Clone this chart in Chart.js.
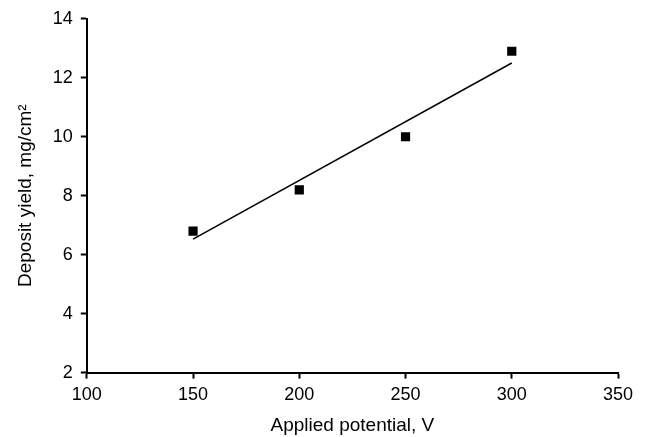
<!DOCTYPE html>
<html>
<head>
<meta charset="utf-8">
<script src="https://cdn.jsdelivr.net/npm/chart.js@4/dist/chart.umd.min.js"></script>
<style>
  html, body { margin: 0; padding: 0; background: #fff; }
  #wrap { width: 648px; height: 437px; }
</style>
</head>
<body>
<div id="wrap"><canvas id="myChart"></canvas></div>
<script>
// measured points
const potential = [150, 200, 250, 300];
const depositYield = [6.8, 8.2, 10.0, 12.9];
// trend line ends
const fitX = [150, 300];
const fitY = [6.53, 12.5];

const xTicks = [100, 150, 200, 250, 300, 350];
const yTicks = [2, 4, 6, 8, 10, 12, 14];

const tickFont = { family: "'Liberation Sans', Arial, sans-serif", size: 18 };
const titleFont = { family: "'Liberation Sans', Arial, sans-serif", size: 19 };

const ctx = document.getElementById('myChart').getContext('2d');
const myChart = new Chart(ctx, {
    type: 'scatter',
    data: {
        datasets: [{
            label: 'data',
            data: potential.map((x, i) => ({ x: x, y: depositYield[i] })),
            pointStyle: 'rect',
            pointRadius: 6.5,
            backgroundColor: '#000',
            borderColor: '#000',
            borderWidth: 0,
            showLine: false
        }, {
            label: 'fit',
            data: fitX.map((x, i) => ({ x: x, y: fitY[i] })),
            showLine: true,
            pointRadius: 0,
            borderColor: '#000',
            borderWidth: 1.5
        }]
    },
    options: {
        responsive: true,
        maintainAspectRatio: false,
        animation: false,
        layout: { padding: { top: 13, right: 30, bottom: 0, left: 14 } },
        plugins: { legend: { display: false }, tooltip: { enabled: false } },
        scales: {
            x: {
                type: 'linear',
                min: 100, max: 350,
                afterBuildTicks: (axis) => { axis.ticks = xTicks.map(v => ({ value: v })); },
                grid: { drawOnChartArea: false, drawTicks: true, tickLength: 6, tickWidth: 2, color: '#000' },
                border: { display: true, color: '#000', width: 2 },
                ticks: { color: '#000', font: tickFont, padding: 6, maxRotation: 0 },
                title: { display: true, text: 'Applied potential, V', color: '#000', font: titleFont, padding: { top: 2, bottom: 0 } }
            },
            y: {
                type: 'linear',
                min: 2, max: 14,
                afterBuildTicks: (axis) => { axis.ticks = yTicks.map(v => ({ value: v })); },
                grid: { drawOnChartArea: false, drawTicks: true, tickLength: 6, tickWidth: 2, color: '#000' },
                border: { display: true, color: '#000', width: 2 },
                ticks: { color: '#000', font: tickFont, padding: 8 },
                title: { display: true, text: 'Deposit yield, mg/cm\u00B2', color: '#000', font: titleFont, padding: { top: 0, bottom: 8 } }
            }
        }
    }
});
</script>
</body>
</html>
